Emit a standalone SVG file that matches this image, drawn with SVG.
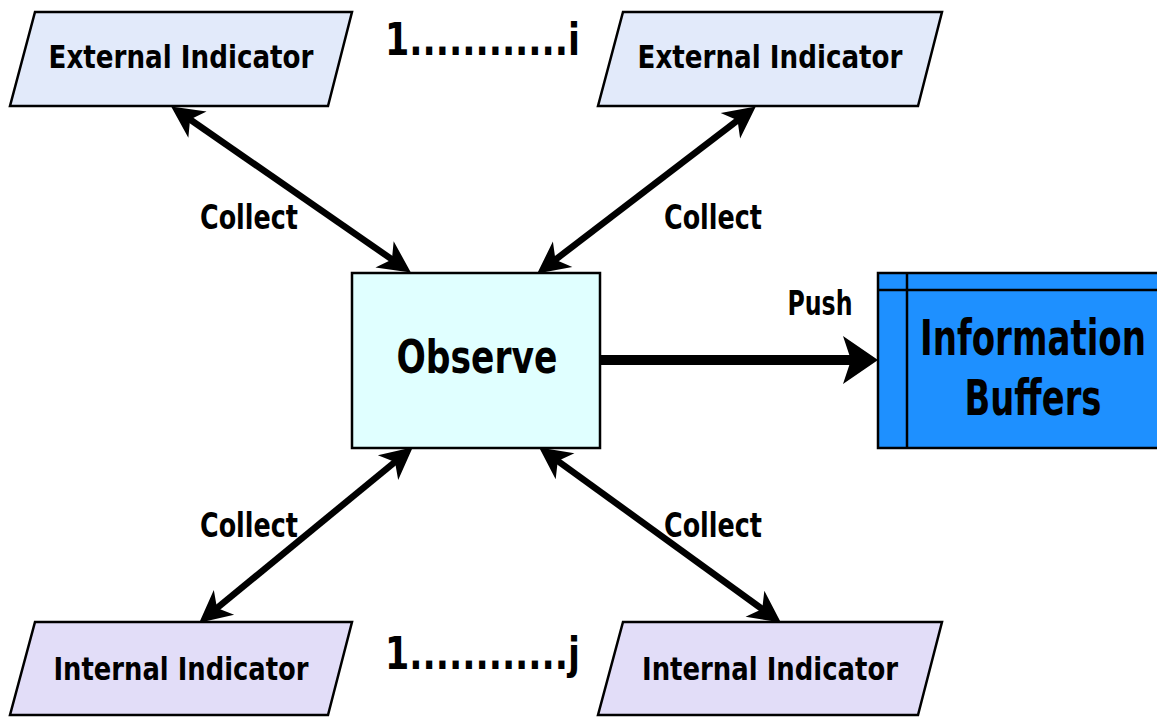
<svg xmlns="http://www.w3.org/2000/svg" width="1157" height="717" viewBox="0 0 1157 717">
  <style>
    text { font-family: "DejaVu Sans Condensed", "DejaVu Sans", sans-serif; font-weight: bold; fill: #000; }
    .ext { fill: #E2EAFA; stroke: #000; stroke-width: 2.5; }
    .int { fill: #E2DDF8; stroke: #000; stroke-width: 2.5; }
    .obs { fill: #E0FFFF; stroke: #000; stroke-width: 2.5; }
    .buf { fill: #1E90FF; stroke: #000; stroke-width: 2.5; }
    .bufline { stroke: #000; stroke-width: 2.5; fill: none; }
    .link { stroke: #000; stroke-width: 6.5; fill: none; }
    .push { stroke: #000; stroke-width: 10; fill: none; }
    .lbl { font-size: 33px; }
    .node { font-size: 32px; }
  </style>
  <defs>
    <marker id="head" markerUnits="userSpaceOnUse" orient="auto-start-reverse" markerWidth="44" markerHeight="44" viewBox="-22 -22 44 44" refX="0" refY="0" overflow="visible">
      <path d="M16,0 L-16,-16 L-7,0 L-16,16 Z" fill="#000"/>
    </marker>
  </defs>

  <!-- connectors -->
  <g id="connectors">
    <line class="link" x1="184.3" y1="115.5" x2="397.7" y2="263.4" marker-start="url(#head)" marker-end="url(#head)"/>
    <line class="link" x1="743.1" y1="116.1" x2="549.9" y2="263.9" marker-start="url(#head)" marker-end="url(#head)"/>
    <line class="link" x1="400.4" y1="457.5" x2="211.6" y2="612.5" marker-start="url(#head)" marker-end="url(#head)"/>
    <line class="link" x1="552.1" y1="456.8" x2="767.9" y2="613.2" marker-start="url(#head)" marker-end="url(#head)"/>
    <line class="push" x1="600" y1="360" x2="853" y2="360"/>
    <polygon points="878,360 843,336 851,360 843,384" fill="#000"/>
    <text class="lbl" x="249" y="229" text-anchor="middle" textLength="98" lengthAdjust="spacingAndGlyphs">Collect</text>
    <text class="lbl" x="713" y="229" text-anchor="middle" textLength="98" lengthAdjust="spacingAndGlyphs">Collect</text>
    <text class="lbl" x="249" y="537" text-anchor="middle" textLength="98" lengthAdjust="spacingAndGlyphs">Collect</text>
    <text class="lbl" x="713" y="537" text-anchor="middle" textLength="98" lengthAdjust="spacingAndGlyphs">Collect</text>
    <text class="lbl" x="820" y="315" text-anchor="middle" textLength="65" lengthAdjust="spacingAndGlyphs">Push</text>
  </g>

  <!-- range markers -->
  <text x="385" y="55" font-size="44" textLength="195" lengthAdjust="spacingAndGlyphs">1............i</text>
  <text x="385" y="669" font-size="44" textLength="195" lengthAdjust="spacingAndGlyphs">1............j</text>

  <g id="ext1">
    <polygon class="ext" points="35,12 352,12 328,106 10,106"/>
    <text class="node" x="181" y="68" text-anchor="middle" textLength="265" lengthAdjust="spacingAndGlyphs">External Indicator</text>
  </g>
  <g id="ext2">
    <polygon class="ext" points="623,12 942,12 918,106 598,106"/>
    <text class="node" x="770" y="68" text-anchor="middle" textLength="265" lengthAdjust="spacingAndGlyphs">External Indicator</text>
  </g>
  <g id="int1">
    <polygon class="int" points="35,622 352,622 328,715 10,715"/>
    <text class="node" x="181" y="680" text-anchor="middle" textLength="255" lengthAdjust="spacingAndGlyphs">Internal Indicator</text>
  </g>
  <g id="int2">
    <polygon class="int" points="623,622 942,622 918,715 598,715"/>
    <text class="node" x="770" y="680" text-anchor="middle" textLength="256" lengthAdjust="spacingAndGlyphs">Internal Indicator</text>
  </g>

  <g id="observe">
    <rect class="obs" x="352" y="273" width="248" height="175"/>
    <text x="477" y="373" font-size="47" text-anchor="middle" textLength="161" lengthAdjust="spacingAndGlyphs">Observe</text>
  </g>

  <g id="buffers">
    <rect class="buf" x="878" y="273" width="281" height="175"/>
    <line class="bufline" x1="907" y1="273" x2="907" y2="448"/>
    <line class="bufline" x1="878" y1="290" x2="1159" y2="290"/>
    <text x="1033" y="355" font-size="49" text-anchor="middle" textLength="226" lengthAdjust="spacingAndGlyphs">Information</text>
    <text x="1033" y="415" font-size="49" text-anchor="middle" textLength="137" lengthAdjust="spacingAndGlyphs">Buffers</text>
  </g>
</svg>
